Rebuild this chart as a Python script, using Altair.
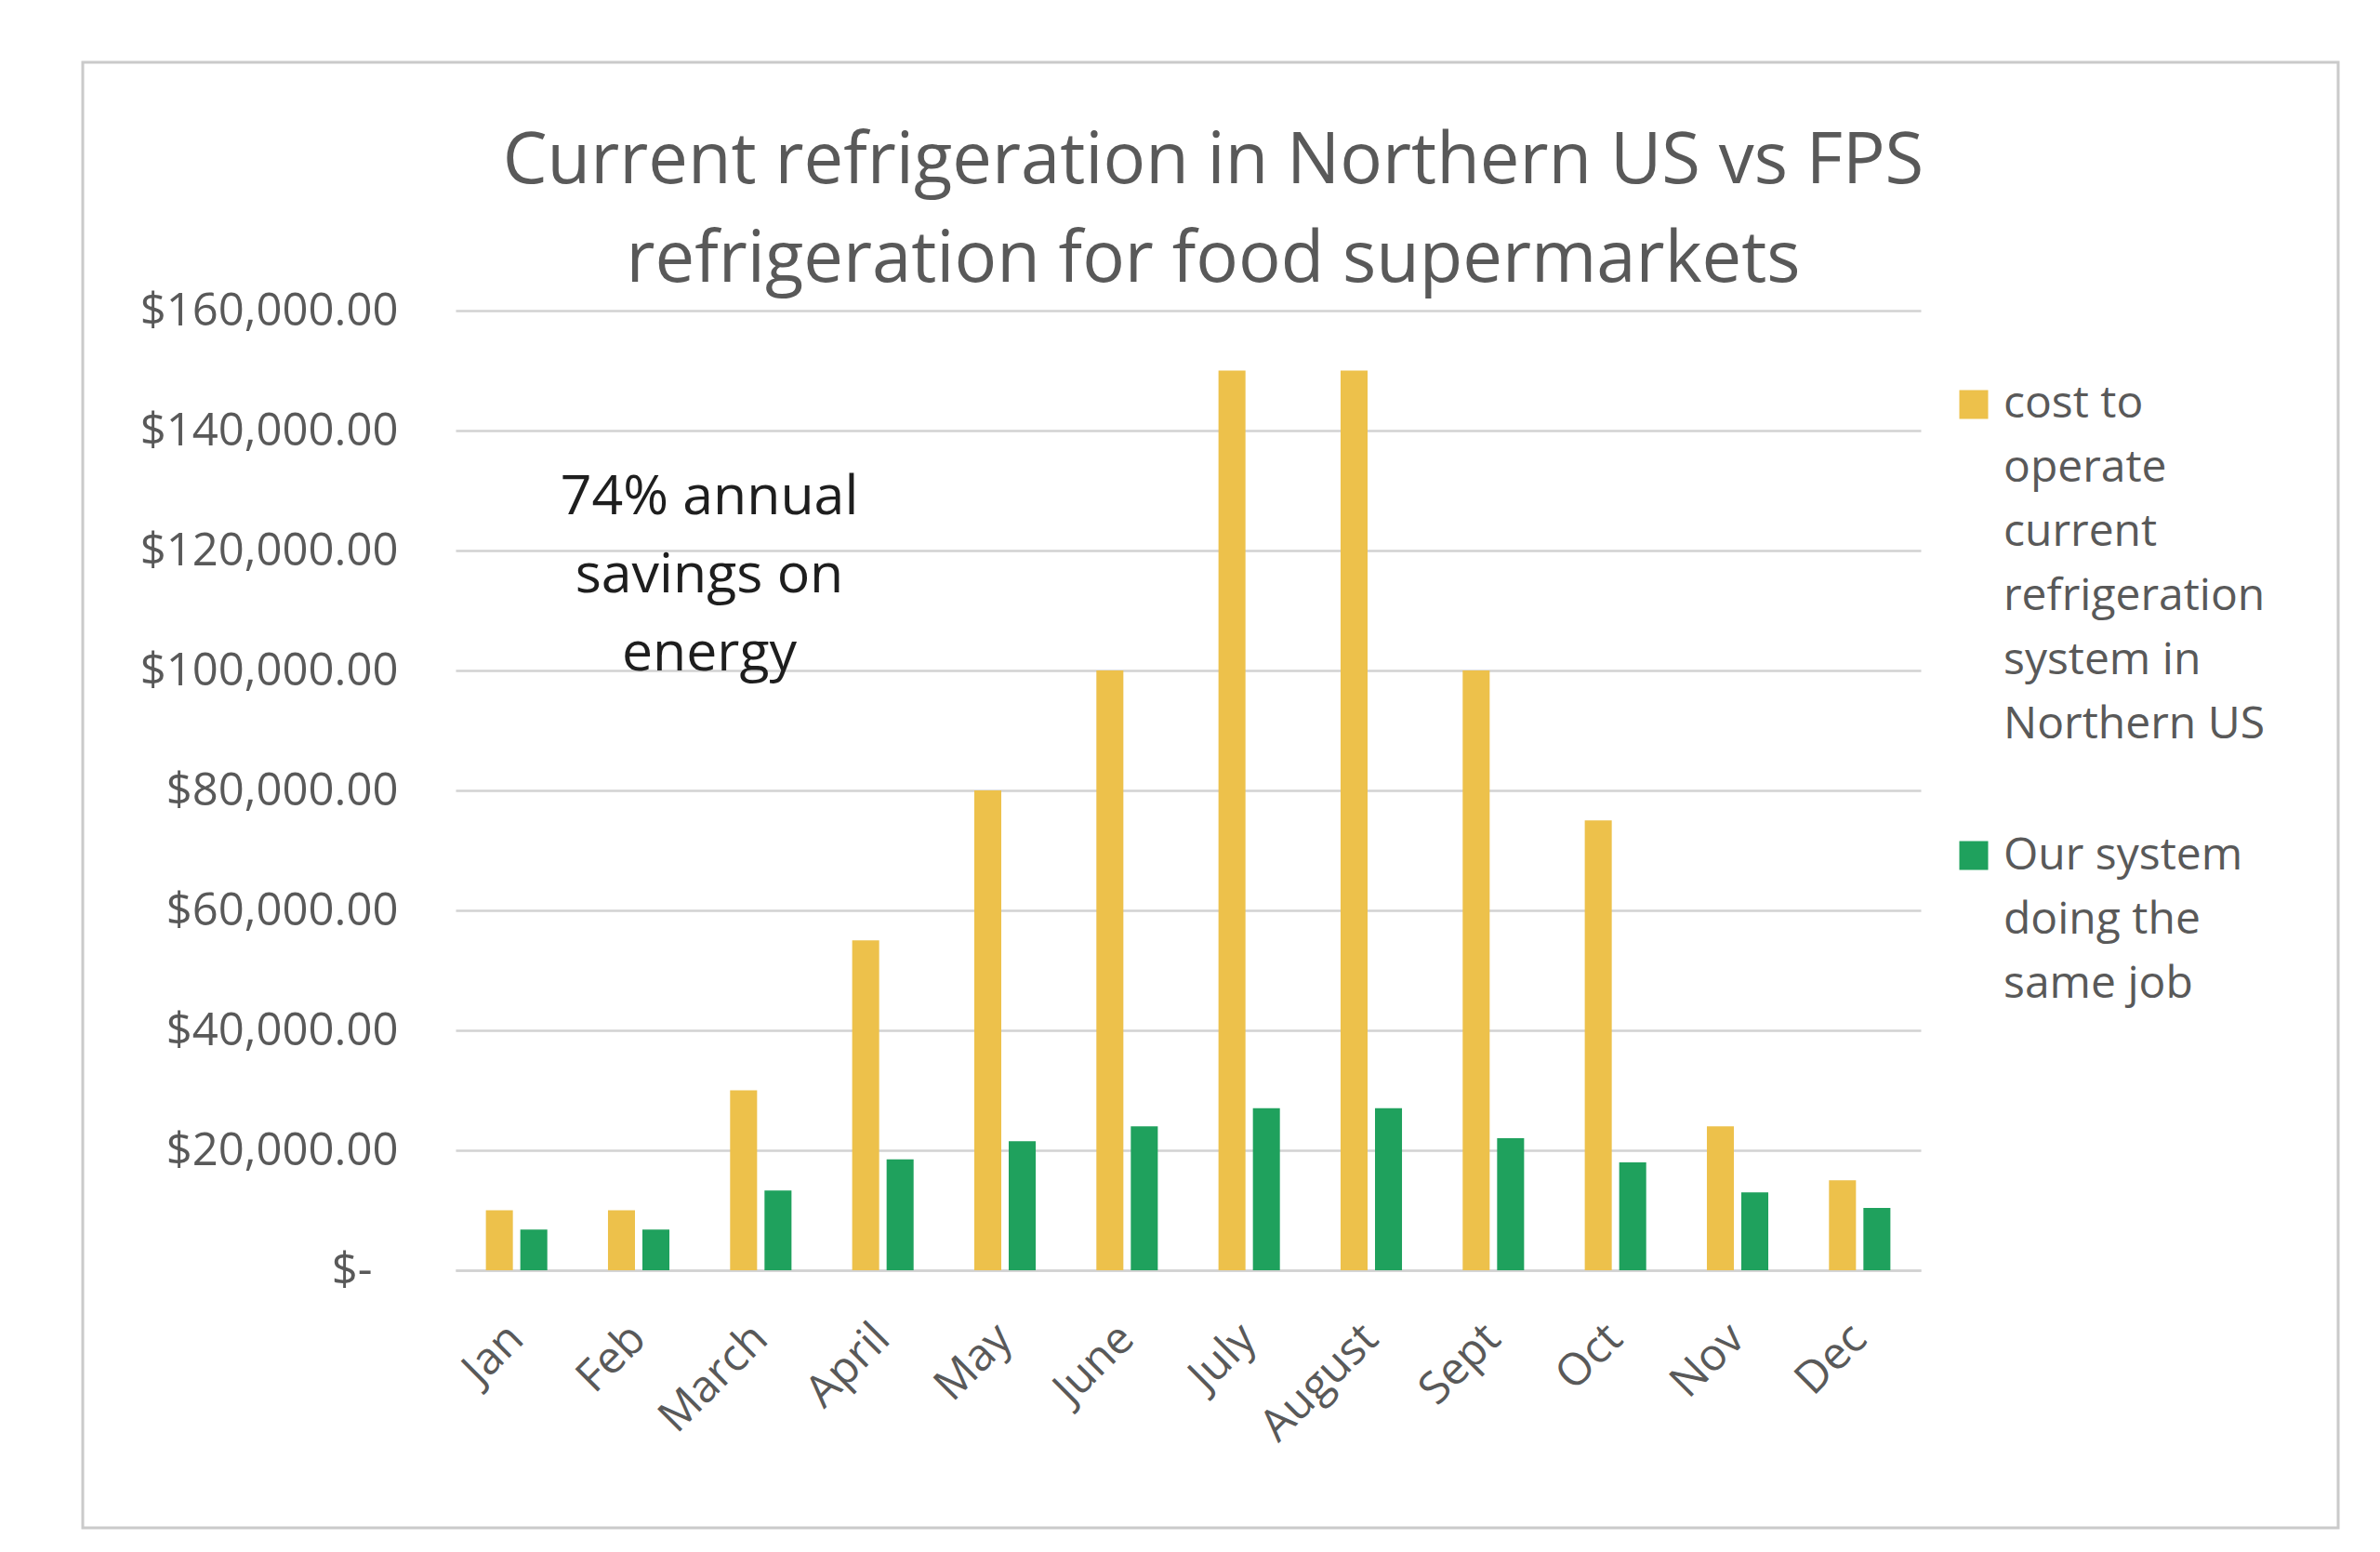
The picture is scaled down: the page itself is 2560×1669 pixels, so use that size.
import altair as alt
import pandas as pd

# ---------------- data ----------------
months = ["Jan", "Feb", "March", "April", "May", "June", "July", "August",
          "Sept", "Oct", "Nov", "Dec"]
series = ["cost to operate current refrigeration system in Northern US",
          "Our system doing the same job"]
current_cost = [10000, 10000, 30000, 55000, 80000, 100000, 150000, 150000,
                100000, 75000, 24000, 15000]
our_cost = [6800, 6800, 13300, 18500, 21500, 24000, 27000, 27000,
            22000, 18000, 13000, 10400]
y_ticks = [0, 20000, 40000, 60000, 80000, 100000, 120000, 140000, 160000]
title_lines = ["Current refrigeration in Northern US vs FPS",
               "refrigeration for food supermarkets"]
note_lines = ["74% annual", "savings on", "energy"]
legend_lines = [["cost to", "operate", "current", "refrigeration", "system in", "Northern US"],
                ["Our system", "doing the", "same job"]]

# ---------------- styling ----------------
colors = ["#EDC14B", "#1FA15D"]
FONT = "Open Sans"
GRAY = "#595959"
GRID = "#d2d2d2"

rows = []
for m, a, b in zip(months, current_cost, our_cost):
    rows.append({"month": m, "series": series[0], "value": a})
    rows.append({"month": m, "series": series[1], "value": b})
df = pd.DataFrame(rows)

color_scale = alt.Scale(domain=series, range=colors)

bars = alt.Chart(df).mark_bar().encode(
    x=alt.X("month:N", sort=months, title=None,
            scale=alt.Scale(paddingInner=0.497, paddingOuter=0.2485),
            axis=alt.Axis(labelAngle=315, labelFont=FONT, labelFontSize=48,
                          labelColor=GRAY, labelPadding=66, labelAlign="right",
                          labelBaseline="middle", ticks=False, labelLimit=0,
                          domainColor=GRID, domainWidth=2.5, grid=False)),
    xOffset=alt.XOffset("series:N", sort=series,
                        scale=alt.Scale(paddingInner=0.216, paddingOuter=0)),
    y=alt.Y("value:Q", title=None,
            scale=alt.Scale(domain=[0, 160000], nice=False),
            axis=alt.Axis(values=y_ticks,
                          labelExpr="datum.value == 0 ? '$-' : '$' + format(datum.value, ',.2f')",
                          labelFont=FONT, labelFontSize=49, labelColor=GRAY,
                          labelPadding=alt.condition("datum.value == 0", alt.value(90), alt.value(62)),
                          labelLimit=0, ticks=False, domain=False,
                          grid=True, gridColor=GRID, gridWidth=2.5)),
    color=alt.Color("series:N", scale=color_scale, legend=None),
)

one = pd.DataFrame({"k": [0]})

border = alt.Chart(one).mark_rect(fillOpacity=0, stroke="#cacaca", strokeWidth=3).encode(
    x=alt.value(-401), x2=alt.value(2025), y=alt.value(-267), y2=alt.value(1309)
)

title = alt.Chart(one).mark_text(
    font=FONT, fontSize=76, color=GRAY, align="center", baseline="alphabetic",
    lineHeight=106
).encode(x=alt.value(815), y=alt.value(-137), text=alt.value(title_lines))

note = alt.Chart(one).mark_text(
    font=FONT, fontSize=59, color="#1e1e1e", align="center", baseline="alphabetic",
    lineHeight=84
).encode(x=alt.value(273), y=alt.value(219), text=alt.value(note_lines))

leg_layers = []
sq_y = [101, 586]
tx_y = [115, 601]
for i, s in enumerate(series):
    d = pd.DataFrame({"series": [s]})
    leg_layers.append(
        alt.Chart(d).mark_square(size=961, opacity=1).encode(
            x=alt.value(1633), y=alt.value(sq_y[i]),
            color=alt.Color("series:N", scale=color_scale, legend=None))
    )
    leg_layers.append(
        alt.Chart(d).mark_text(font=FONT, fontSize=48, color=GRAY, align="left",
                               baseline="alphabetic", lineHeight=69).encode(
            x=alt.value(1665), y=alt.value(tx_y[i]), text=alt.value(legend_lines[i]))
    )

chart = alt.layer(border, bars, note, title, *leg_layers).properties(
    width=1576, height=1032,
    autosize=alt.AutoSizeParams(type="none"),
    padding={"left": 482, "top": 326, "right": 486, "bottom": 295},
    background="white",
).configure_view(stroke=None)

chart.save("out.html", embed_options={"renderer": "svg", "actions": False})
